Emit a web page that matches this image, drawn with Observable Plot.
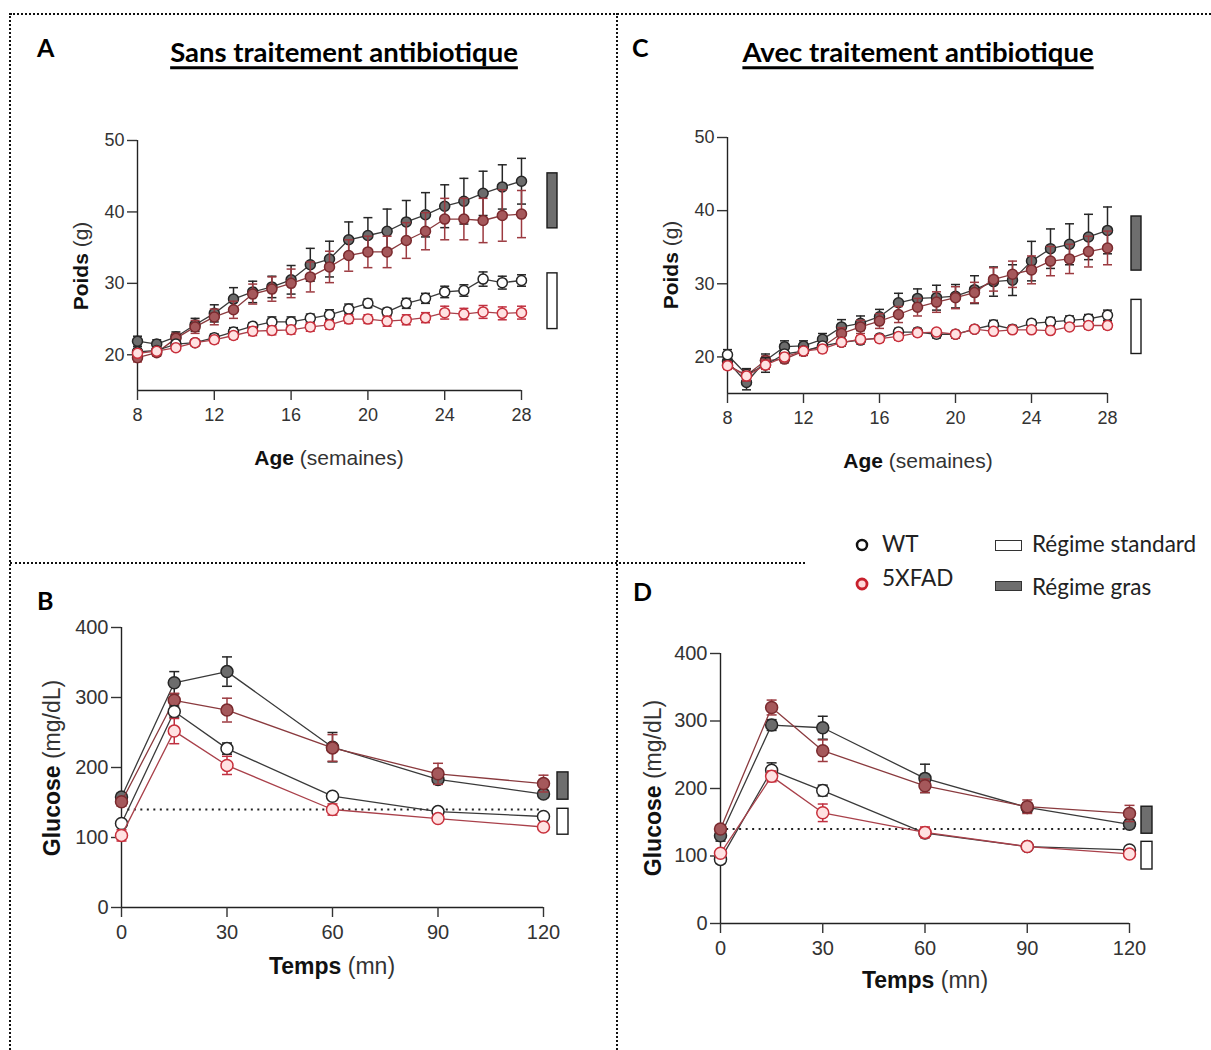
<!DOCTYPE html>
<html><head><meta charset="utf-8">
<script src="https://cdn.jsdelivr.net/npm/d3@7"></script>
<script src="https://cdn.jsdelivr.net/npm/@observablehq/plot@0.6"></script>
<style>
body{margin:0;background:#fff;width:1211px;height:1050px;position:relative;overflow:hidden;font-family:"Liberation Sans",Arimo,Arial,Helvetica,sans-serif;}
.dotH{position:absolute;border-top:2px dotted #111;height:0;}
.dotV{position:absolute;border-left:2px dotted #111;width:0;}
.letter{position:absolute;font-family:Lato,sans-serif;font-weight:700;font-size:25px;line-height:1;color:#000;transform:translateY(-50%);}
.title{position:absolute;font-family:Lato,sans-serif;font-weight:700;font-size:27.5px;line-height:1;text-decoration:underline;text-decoration-thickness:2.5px;text-underline-offset:4px;text-decoration-skip-ink:none;transform:translate(-50%,-50%);white-space:nowrap;color:#000;}
.xlab{position:absolute;transform:translate(-50%,-50%);white-space:nowrap;color:#333;line-height:1;font-family:"Liberation Sans",Arimo,Arial,sans-serif;}
.ylab{position:absolute;transform:translate(-50%,-50%) rotate(-90deg);white-space:nowrap;color:#333;line-height:1;font-family:"Liberation Sans",Arimo,Arial,sans-serif;}
.xlab b,.ylab b{color:#111}
.leg{position:absolute;font-family:Lato,sans-serif;font-size:22.5px;line-height:1;color:#222;transform:translateY(-50%);white-space:nowrap;}
.plot{position:absolute;}
</style></head>
<body>
<script>
// ---------- DATA ----------
const weeks = [8,9,10,11,12,13,14,15,16,17,18,19,20,21,22,23,24,25,26,27,28];
const weekTicks = [8,12,16,20,24,28];
const weightTicks = [20,30,40,50];
const times = [0,15,30,60,90,120];
const timeTicks = [0,30,60,90,120];
const glucoseTicks = [0,100,200,300,400];
const glucoseThreshold = [140];

// Panel A : Sans traitement antibiotique (poids, g)
const A_wtFat     = [21.9,21.5,22.5,24.2,25.8,27.8,28.8,29.5,30.5,32.6,33.4,36.1,36.7,37.3,38.6,39.6,40.8,41.5,42.6,43.5,44.3];
const A_wtFatErr  = [0.7,0.6,0.7,0.9,1.2,1.6,1.5,1.5,2.0,2.3,2.5,2.5,2.5,3.1,3.0,3.1,3.0,3.2,3.1,3.1,3.2];
const A_xFat      = [19.6,20.3,22.3,23.9,25.3,26.3,28.5,29.2,30.0,30.9,32.3,33.9,34.4,34.4,36.0,37.3,39.0,39.0,38.8,39.5,39.7];
const A_xFatErr   = [0.6,0.5,0.7,0.9,1.1,1.2,1.4,1.7,2.0,2.1,2.2,2.2,2.2,2.2,2.5,2.6,2.9,2.9,3.1,3.6,3.3];
const A_wtStd     = [20.4,20.6,21.5,21.7,22.4,23.2,24.0,24.6,24.6,25.1,25.6,26.4,27.2,26.0,27.2,27.9,28.8,29.0,30.6,30.1,30.4];
const A_wtStdErr  = [0.5,0.4,0.5,0.4,0.5,0.6,0.5,0.7,0.7,0.6,0.7,0.7,0.6,0.5,0.7,0.7,0.8,0.8,1.0,0.9,0.8];
const A_xStd      = [20.2,20.5,21.0,21.7,22.1,22.7,23.3,23.4,23.5,23.9,24.2,25.0,25.0,24.7,24.9,25.2,25.9,25.7,26.0,25.8,25.9];
const A_xStdErr   = [0.5,0.4,0.4,0.4,0.5,0.5,0.6,0.6,0.6,0.6,0.6,0.6,0.6,0.7,0.7,0.7,0.9,0.8,0.9,0.9,0.9];

// Panel C : Avec traitement antibiotique (poids, g)
const C_wtFat     = [19.4,16.5,19.5,21.4,21.5,22.4,24.1,24.6,25.5,27.4,28.0,28.1,28.3,29.2,30.3,30.5,33.1,34.8,35.4,36.4,37.3];
const C_wtFatErr  = [1.0,1.0,0.9,0.8,0.7,0.8,1.0,1.0,1.0,1.3,1.3,1.7,1.6,1.9,2.0,2.1,2.7,2.7,2.8,3.1,3.2];
const C_xFat      = [18.9,17.5,19.5,19.7,20.8,21.4,23.2,24.1,24.9,25.8,26.8,27.5,28.1,28.8,30.6,31.3,31.9,33.1,33.4,34.4,34.9];
const C_xFatErr   = [0.5,0.8,0.6,0.5,0.6,0.6,0.8,0.9,1.0,1.1,1.2,1.4,1.5,1.4,1.6,1.8,1.9,2.0,2.0,2.1,2.3];
const C_wtStd     = [20.3,17.6,18.9,20.4,20.8,21.5,22.0,22.3,22.6,23.4,23.4,23.1,23.1,23.8,24.4,23.8,24.6,24.8,25.0,25.2,25.7];
const C_wtStdErr  = [0.7,0.8,1.0,0.5,0.5,0.5,0.5,0.5,0.4,0.5,0.5,0.5,0.5,0.4,0.6,0.5,0.5,0.6,0.6,0.6,0.7];
const C_xStd      = [18.8,17.4,18.9,20.0,20.8,21.1,22.0,22.4,22.5,22.8,23.3,23.4,23.1,23.8,23.5,23.7,23.7,23.6,24.1,24.3,24.3];
const C_xStdErr   = [0.5,0.6,0.6,0.5,0.5,0.5,0.4,0.5,0.5,0.5,0.4,0.4,0.4,0.4,0.4,0.4,0.4,0.4,0.4,0.5,0.5];

// Panel B : glycémie sans antibiotique (mg/dL)
const B_wtFat    = [158,321,337,229,183,162];
const B_wtFatErr = [5,16,21,21,7,5];
const B_xFat     = [151,296,282,228,191,177];
const B_xFatErr  = [6,10,17,19,15,12];
const B_wtStd    = [120,280,227,159,137,130];
const B_wtStdErr = [4,8,8,4,4,3];
const B_xStd     = [103,252,203,140,127,115];
const B_xStdErr  = [8,18,13,8,5,3];

// Panel D : glycémie avec antibiotique (mg/dL)
const D_wtFat    = [130,294,290,215,172,147];
const D_wtFatErr = [8,8,17,21,7,6];
const D_xFat     = [140,320,256,204,173,163];
const D_xFatErr  = [5,11,16,10,10,12];
const D_wtStd    = [95,227,197,134,114,109];
const D_wtStdErr = [6,11,8,5,3,3];
const D_xStd     = [104,218,164,135,114,103];
const D_xStdErr  = [5,8,13,8,3,5];

// Diet group brackets (value range spanned by each diet marker)
const A_dietFat = [37.7, 45.4], A_dietStd = [23.6, 31.4];
const C_dietFat = [31.8, 39.2], C_dietStd = [20.4, 27.8];
const B_dietFat = [154, 193],   B_dietStd = [104, 141];
const D_dietFat = [133, 173],   D_dietStd = [80, 121];

// ---------- STYLES ----------
const S = {
  wtFat: {fill:"#6c6c6c", stroke:"#262626", line:"#3a3a3a", err:"#262626"},
  xFat:  {fill:"#a5585b", stroke:"#7a2a2e", line:"#8a3a3e", err:"#9c3a40"},
  wtStd: {fill:"#ffffff", stroke:"#262626", line:"#3a3a3a", err:"#262626"},
  xStd:  {fill:"#ffe2e2", stroke:"#c8303c", line:"#a9404a", err:"#c03040"}
};
const capSymbol = (w) => ({draw(ctx){ ctx.moveTo(-w,0); ctx.lineTo(w,0); }});

function rows(xs, ys, es){ return xs.map((x,i)=>({x, y:ys[i], e:es[i]})); }

function panel(cfg){
  const {xDomain, xTicks, yDomain, yTicks, xs, series, fatBar, stdBar, width, height, m, r, capW, tickFont, ref, barDx, barW, xPad} = cfg;
  const marks = [];
  marks.push(Plot.ruleX([xDomain[0]], {y1: () => yDomain[0], y2: () => yDomain[1], stroke:"#222", strokeWidth:1.4}));
  marks.push(Plot.ruleY([yDomain[0]], {x1: () => xDomain[0], x2: () => xDomain[1], stroke:"#222", strokeWidth:1.4}));
  marks.push(Plot.axisX({ticks: xTicks, tickSize: 10, tickPadding: xPad, fontSize: tickFont, color:"#333", strokeWidth:1.4, label:null}));
  marks.push(Plot.axisY({ticks: yTicks, tickSize: 10, tickPadding: 3, fontSize: tickFont, color:"#333", strokeWidth:1.4, label:null}));
  if (ref) marks.push(Plot.ruleY(ref, {x1: () => xDomain[0] + (xDomain[1]-xDomain[0])*0.015, x2: () => xDomain[1], stroke:"#222", strokeWidth:2.2, strokeDasharray:"2,4.5"}));
  for (const [key, ys, es] of series){
    const st = S[key];
    const d = rows(xs, ys, es);
    marks.push(Plot.line(d, {x:"x", y:"y", stroke: st.line, strokeWidth:1.3}));
    marks.push(Plot.ruleX(d, {x:"x", y1: q => q.y - q.e, y2: q => q.y + q.e, stroke: st.err, strokeWidth:1.5}));
    marks.push(Plot.dot(d, {x:"x", y: q => q.y + q.e, symbol: capSymbol(capW), r: 3, fill:"none", stroke: st.err, strokeWidth:1.5}));
    marks.push(Plot.dot(d, {x:"x", y: q => q.y - q.e, symbol: capSymbol(capW), r: 3, fill:"none", stroke: st.err, strokeWidth:1.5}));
    marks.push(Plot.dot(d, {x:"x", y:"y", r, fill: st.fill, stroke: st.stroke, strokeWidth:1.5}));
  }
  const bars = [[fatBar, "#6e6e6e"], [stdBar, "#ffffff"]];
  for (const [b, col] of bars){
    const bd = [{lo: b[0], hi: b[1]}];
    marks.push(Plot.rect(bd, {x1: () => xDomain[1], x2: () => xDomain[1], y1:"lo", y2:"hi", dx: barDx,
      insetLeft: -barW/2, insetRight: -barW/2, fill: col, stroke:"#1a1a1a", strokeWidth:1.4}));
  }
  return Plot.plot({
    width, height,
    marginLeft: m[0], marginRight: m[1], marginTop: m[2], marginBottom: m[3],
    x: {domain: xDomain},
    y: {domain: yDomain},
    style: {fontFamily: "'Liberation Sans', Arimo, Arial, sans-serif", background: "transparent", overflow: "visible", color:"#333"},
    marks
  });
}

function place(node, left, top){
  const div = document.createElement("div");
  div.className = "plot";
  div.style.left = left + "px"; div.style.top = top + "px";
  div.appendChild(node);
  document.body.appendChild(div);
}
function html(s){ const t = document.createElement("template"); t.innerHTML = s.trim(); const n = t.content.firstChild; document.body.appendChild(n); return n; }

// ---------- FRAME ----------
html(`<div class="dotH" style="left:10px;top:13px;width:1201px"></div>`);
html(`<div class="dotV" style="left:9px;top:13px;height:1040px"></div>`);
html(`<div class="dotV" style="left:616px;top:13px;height:1040px"></div>`);
html(`<div class="dotH" style="left:10px;top:562px;width:795px"></div>`);

html(`<div class="letter" style="left:37px;top:47px">A</div>`);
html(`<div class="letter" style="left:632px;top:47px">C</div>`);
html(`<div class="letter" style="left:37px;top:600px">B</div>`);
html(`<div class="letter" style="left:633px;top:591px">D</div>`);
html(`<div class="title" style="left:344px;top:52px">Sans traitement antibiotique</div>`);
html(`<div class="title" style="left:918px;top:52px">Avec traitement antibiotique</div>`);

// ---------- PANELS ----------
const fourSeries = (p) => [["wtFat", p.wtFat, p.wtFatErr], ["xFat", p.xFat, p.xFatErr], ["wtStd", p.wtStd, p.wtStdErr], ["xStd", p.xStd, p.xStdErr]];

place(panel({xDomain:[8,28], xTicks: weekTicks, yDomain:[15,50], yTicks: weightTicks, xs: weeks,
  series: fourSeries({wtFat:A_wtFat, wtFatErr:A_wtFatErr, xFat:A_xFat, xFatErr:A_xFatErr, wtStd:A_wtStd, wtStdErr:A_wtStdErr, xStd:A_xStd, xStdErr:A_xStdErr}),
  fatBar: A_dietFat, stdBar: A_dietStd, width: 540, height: 320, m:[97, 59, 20, 50], r: 5, capW: 4.5, tickFont: 18, barDx: 31, barW: 10, xPad: 8}), 40, 120);

place(panel({xDomain:[8,28], xTicks: weekTicks, yDomain:[15,50], yTicks: weightTicks, xs: weeks,
  series: fourSeries({wtFat:C_wtFat, wtFatErr:C_wtFatErr, xFat:C_xFat, xFatErr:C_xFatErr, wtStd:C_wtStd, wtStdErr:C_wtStdErr, xStd:C_xStd, xStdErr:C_xStdErr}),
  fatBar: C_dietFat, stdBar: C_dietStd, width: 540, height: 320, m:[97, 63, 20, 44], r: 5, capW: 4.5, tickFont: 18, barDx: 29, barW: 10, xPad: 8}), 630, 117);

place(panel({xDomain:[0,120], xTicks: timeTicks, yDomain:[0,400], yTicks: glucoseTicks, xs: times,
  series: fourSeries({wtFat:B_wtFat, wtFatErr:B_wtFatErr, xFat:B_xFat, xFatErr:B_xFatErr, wtStd:B_wtStd, wtStdErr:B_wtStdErr, xStd:B_xStd, xStdErr:B_xStdErr}),
  fatBar: B_dietFat, stdBar: B_dietStd, ref: glucoseThreshold, width: 560, height: 350, m:[91, 47, 20, 50], r: 6, capW: 5, tickFont: 20, barDx: 19.5, barW: 11, xPad: 7}), 30, 607);

place(panel({xDomain:[0,120], xTicks: timeTicks, yDomain:[0,400], yTicks: glucoseTicks, xs: times,
  series: fourSeries({wtFat:D_wtFat, wtFatErr:D_wtFatErr, xFat:D_xFat, xFatErr:D_xFatErr, wtStd:D_wtStd, wtStdErr:D_wtStdErr, xStd:D_xStd, xStdErr:D_xStdErr}),
  fatBar: D_dietFat, stdBar: D_dietStd, ref: glucoseThreshold, width: 550, height: 340, m:[90, 51, 20, 50], r: 6, capW: 5, tickFont: 20, barDx: 17.5, barW: 11, xPad: 7}), 630, 633);

// ---------- AXIS LABELS ----------
html(`<div class="xlab" style="left:329px;top:457px;font-size:21px"><b>Age</b> (semaines)</div>`);
html(`<div class="ylab" style="left:80px;top:266px;font-size:21px"><b>Poids</b> (g)</div>`);
html(`<div class="xlab" style="left:918px;top:460px;font-size:21px"><b>Age</b> (semaines)</div>`);
html(`<div class="ylab" style="left:670px;top:265px;font-size:21px"><b>Poids</b> (g)</div>`);
html(`<div class="xlab" style="left:332px;top:966px;font-size:23px"><b>Temps</b> (mn)</div>`);
html(`<div class="ylab" style="left:52px;top:768px;font-size:23px"><b>Glucose</b> (mg/dL)</div>`);
html(`<div class="xlab" style="left:925px;top:980px;font-size:23px"><b>Temps</b> (mn)</div>`);
html(`<div class="ylab" style="left:653px;top:788px;font-size:23px"><b>Glucose</b> (mg/dL)</div>`);

// ---------- LEGEND ----------
html(`<svg style="position:absolute;left:852px;top:535px" width="20" height="60"><circle cx="10" cy="10" r="5" fill="#fff" stroke="#111" stroke-width="2.5"/><circle cx="10" cy="49" r="5" fill="#ffd8d8" stroke="#c8202c" stroke-width="2.8"/></svg>`);
html(`<div class="leg" style="left:882px;top:544px">WT</div>`);
html(`<div class="leg" style="left:882px;top:578px">5XFAD</div>`);
html(`<div style="position:absolute;left:995px;top:540px;width:25px;height:9px;border:1px solid #333;background:#fff"></div>`);
html(`<div style="position:absolute;left:995px;top:581px;width:25px;height:8px;border:1px solid #333;background:#6e6e6e"></div>`);
html(`<div class="leg" style="left:1032px;top:544px">Régime standard</div>`);
html(`<div class="leg" style="left:1032px;top:587px">Régime gras</div>`);
</script>
</body></html>
